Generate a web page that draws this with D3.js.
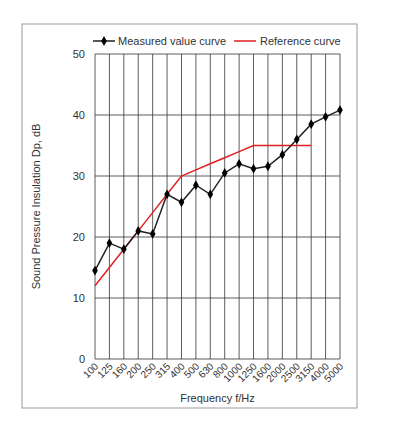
<!DOCTYPE html>
<html><head><meta charset="utf-8">
<script src="https://cdn.jsdelivr.net/npm/d3@7"></script>
<style>body{margin:0;background:#fff}text{font-family:Arial,"Liberation Sans",sans-serif}</style>
</head><body><svg id="c" width="405" height="424"></svg>
<script>
const freqs = ["100","125","160","200","250","315","400","500","630","800","1000","1250","1600","2000","2500","3150","4000","5000"];
const measured = [14.5,19,18,21,20.5,27,25.7,28.5,27,30.5,32,31.2,31.6,33.5,36,38.5,39.7,40.8];
const reference = [12,15,18,21,24,27,30,31,32,33,34,35,35,35,35,35];
const yTicks = [0,10,20,30,40,50];

const svg = d3.select("#c");
svg.append("rect").attr("x",22).attr("y",24).attr("width",335).attr("height",384)
  .attr("fill","none").attr("stroke","#999").attr("stroke-width",1);
const L=95,R=340,T=54,B=359;
const x = d3.scalePoint().domain(freqs).range([L,R]);
const y = d3.scaleLinear().domain([0,50]).range([B,T]);
const g = svg.append("g");
g.selectAll(".v").data(freqs).join("line").attr("x1",d=>x(d)).attr("x2",d=>x(d))
  .attr("y1",T).attr("y2",B).attr("stroke","#333").attr("stroke-width",0.8);
g.selectAll(".h").data(yTicks).join("line").attr("x1",L).attr("x2",R)
  .attr("y1",d=>y(d)).attr("y2",d=>y(d)).attr("stroke","#333").attr("stroke-width",0.8);
g.selectAll(".yl").data(yTicks).join("text").attr("x",L-10).attr("y",d=>y(d)+4)
  .attr("text-anchor","end").attr("font-size",11).attr("fill","#333").text(d=>d);
g.selectAll(".xl").data(freqs).join("text")
  .attr("transform",d=>`translate(${x(d)+4},${B+8}) rotate(-45)`)
  .attr("text-anchor","end").attr("font-size",10).attr("fill","#333").text(d=>d);
svg.append("text").attr("x",(L+R)/2).attr("y",402).attr("text-anchor","middle")
  .attr("font-size",11).attr("fill","#333").text("Frequency f/Hz");
svg.append("text").attr("transform",`translate(40,${(T+B)/2}) rotate(-90)`).attr("text-anchor","middle")
  .attr("font-size",11).attr("fill","#333").text("Sound Pressure Insulation Dp, dB");

const line = d3.line().x((d,i)=>x(freqs[i])).y(d=>y(d));
svg.append("path").datum(reference).attr("d",line).attr("fill","none").attr("stroke","#e02020").attr("stroke-width",1.5);
svg.append("path").datum(measured).attr("d",line).attr("fill","none").attr("stroke","#222").attr("stroke-width",1.5);
svg.selectAll(".m").data(measured).join("path")
  .attr("d",d3.symbol(d3.symbolDiamond,28)).attr("fill","#000")
  .attr("transform",(d,i)=>`translate(${x(freqs[i])},${y(d)})`);

// legend
const lg = svg.append("g").attr("transform","translate(0,41)");
lg.append("line").attr("x1",93).attr("x2",115).attr("stroke","#222").attr("stroke-width",1.5);
lg.append("path").attr("d",d3.symbol(d3.symbolDiamond,28)).attr("transform","translate(104,0)");
lg.append("text").attr("x",118).attr("y",4).attr("font-size",11).attr("fill","#333").text("Measured value curve");
lg.append("line").attr("x1",234).attr("x2",256).attr("stroke","#e02020").attr("stroke-width",1.5);
lg.append("text").attr("x",260).attr("y",4).attr("font-size",11).attr("fill","#333").text("Reference curve");
</script></body></html>
